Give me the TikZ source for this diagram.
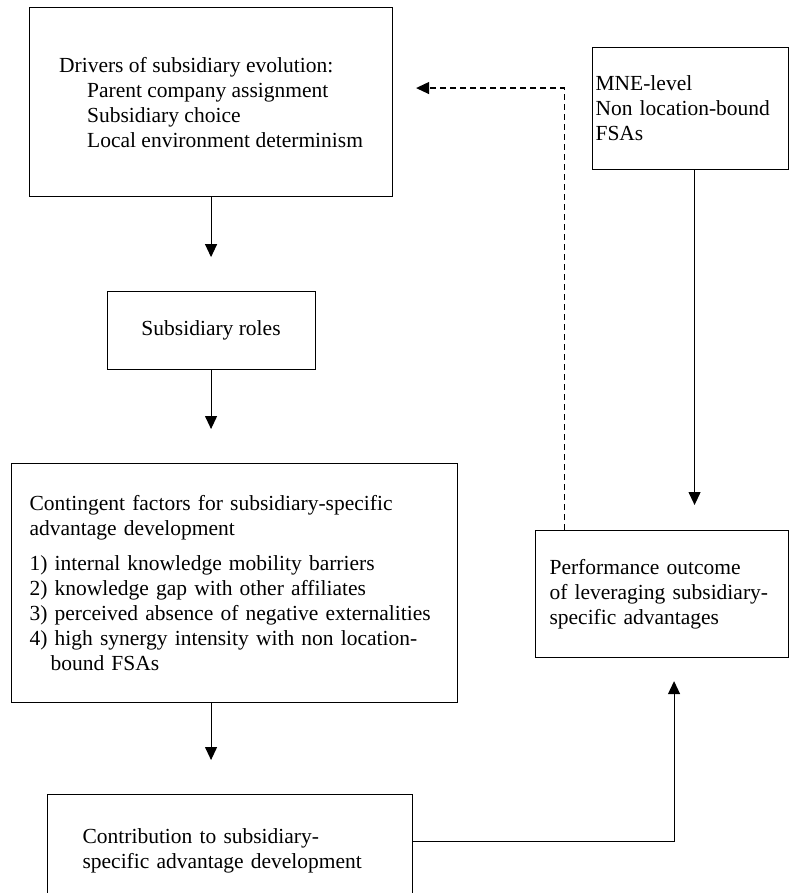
\documentclass[tikz,border=0pt]{standalone}
\usepackage{fontspec}
\setmainfont{Liberation Serif}
\usetikzlibrary{positioning, arrows.meta}

\begin{document}
\begin{tikzpicture}[
  x=1pt, y=-1pt,
  font=\fontsize{21.5}{25}\selectfont,
  box/.style={draw, line width=1.1pt, align=left, anchor=north west, inner ysep=0pt},
  link/.style={line width=1.1pt, -{Triangle[length=13pt, width=12pt]}}
]
\useasboundingbox (0,0) rectangle (789,893);
\node[box, minimum width=363pt, minimum height=189pt] (drivers) at (29,7)
  {Drivers of subsidiary evolution:\\
   \hspace*{28pt}Parent company assignment\\
   \hspace*{28pt}Subsidiary choice\\
   \hspace*{28pt}Local environment determinism};
\node[box, align=center, minimum width=208pt, minimum height=78pt, below=94pt of drivers] (roles) {Subsidiary roles};
\node[box, inner xsep=18pt, text width=410pt, minimum height=239pt] (factors) at (11,463)
  {Contingent factors for subsidiary-specific\\
   advantage development\\[10pt]
   1) internal knowledge mobility barriers\\
   2) knowledge gap with other affiliates\\
   3) perceived absence of negative externalities\\
   4) high synergy intensity with non location-\\
   \hspace*{21pt}bound FSAs};
\node[box, inner xsep=3pt, text width=190pt, minimum height=122pt] (mne) at (592,47)
  {MNE-level\\ Non location-bound\\ FSAs};
\node[box, inner xsep=14pt, text width=225pt, minimum height=127pt] (perf) at (535,530)
  {Performance outcome\\ of leveraging subsidiary-\\ specific advantages};
\node[box, inner xsep=35pt, text width=295pt, minimum height=112pt] (contrib) at (47,794)
  {Contribution to subsidiary-\\ specific advantage development};
\draw[link, shorten >=34pt] (drivers.south) -- (roles.north);
\draw[link, shorten >=34pt] (roles.south) -- (roles.south |- factors.north);
\draw[link, shorten >=34pt] (roles.south |- factors.south) -- (roles.south |- contrib.north);
\draw[link, shorten >=25pt] ([xshift=4pt]mne.south) -- ([xshift=4pt]mne.south |- perf.north);
\draw[link, shorten >=23pt] ([yshift=9pt]contrib.east) -| ([xshift=12pt]perf.south);
\draw[link, dash pattern=on 6pt off 4pt, shorten >=23pt] ([xshift=-98pt]perf.north) |- ([yshift=14pt]drivers.east);
\end{tikzpicture}
\end{document}
